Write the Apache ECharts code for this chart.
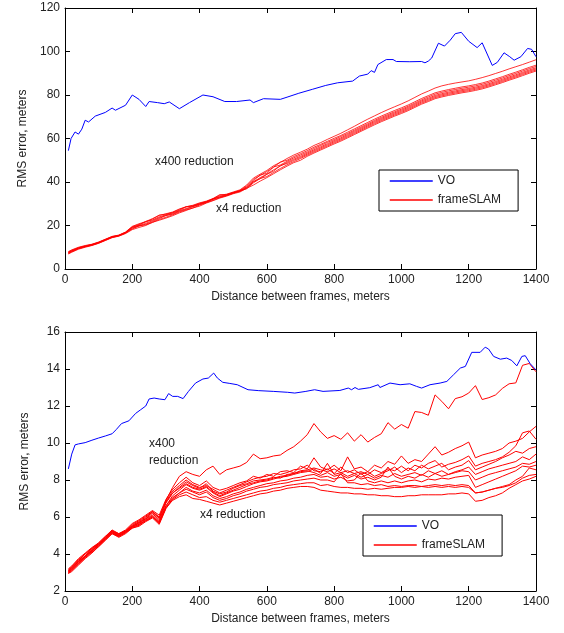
<!DOCTYPE html>
<html>
<head>
<meta charset="utf-8">
<script src="https://cdn.jsdelivr.net/npm/echarts@6/dist/echarts.min.js"></script>
<style>
  html, body { margin: 0; padding: 0; background: #fff; }
  #chart { width: 564px; height: 633px; }
</style>
</head>
<body>
<div id="chart"></div>
<script>
// Shared distance grid (meters) for the frameSLAM runs
const DIST = [10,20,40,60,80,100,120,140,160,180,200,220,240,260,280,300,320,340,360,380,
  400,420,440,460,480,500,520,540,560,580,600,620,640,660,680,700,720,740,760,780,
  800,820,840,860,880,900,920,940,960,980,1000,1020,1040,1060,1080,1100,1120,1140,1160,1180,
  1200,1220,1240,1260,1280,1300,1320,1340,1360,1380,1400];

// ---- Upper panel: x400 reduction ----
const VO_TOP_X = [10,18,30,40,50,60,70,90,120,140,150,180,200,220,240,250,275,295,310,340,
  370,410,440,475,510,550,560,590,640,660,695,735,775,810,855,875,900,910,920,930,
  955,975,985,1025,1060,1070,1080,1090,1110,1128,1145,1160,1178,1200,1225,1240,1270,1285,1305,1322,
  1335,1355,1375,1387,1400];
const VO_TOP_Y = [54.4,60,63,62,64.3,68.4,67.6,70.3,72,74,73,75.3,80,78,74.7,77,76.5,76,76.8,73.7,
  76.5,80,79.2,77,77,77.7,76.5,78.3,78,79,80.8,82.6,84.4,85.6,86.4,88.7,89.6,91.2,90.4,94,
  96.3,96.3,95.4,95.3,95.4,94.8,95.6,97,103.8,102.5,105.2,108.2,108.8,104.7,101.8,104,93.6,95,99.4,97.6,
  96,97.6,101.4,101,97.6];

const SLAM_TOP_1 = [8.0,8.8,10.0,10.8,11.4,12.4,13.7,15.0,15.6,17.0,19.6,20.8,21.8,23.2,24.6,25.4,26.2,27.6,28.6,29.3,
  30.4,31.2,32.4,33.9,34.4,35.4,36.4,38.6,41.8,43.6,45.3,47.5,49.0,50.8,52.4,53.7,55.1,56.8,58.1,59.6,
  61.0,62.4,64.0,65.6,67.3,68.9,70.4,71.9,73.3,74.6,75.9,77.3,78.9,80.5,81.8,83.2,84.2,84.9,85.5,86.0,
  86.5,87.2,88.0,88.9,89.9,90.9,92.0,93.0,94.0,95.1,96.2];
const SLAM_TOP_2 = [7.8,8.6,9.8,10.6,11.3,12.3,13.6,14.9,15.5,16.9,19.4,20.5,21.6,22.9,24.8,25.2,26.0,27.4,28.6,29.1,
  30.2,31.0,32.3,34.2,34.2,35.2,36.1,38.2,41.2,43.0,44.8,46.8,49.2,50.0,51.7,53.0,54.4,56.0,57.3,58.7,
  60.1,61.4,62.9,64.4,65.9,67.4,68.9,70.3,71.6,72.9,74.1,75.4,76.9,78.4,79.7,81.0,81.8,82.5,83.1,83.7,
  84.2,84.8,85.5,86.4,87.4,88.4,89.5,90.5,91.6,92.7,93.7];
const SLAM_TOP_3 = [7.6,8.4,9.7,10.5,11.2,12.2,13.5,14.8,15.4,16.8,19.2,20.2,21.9,22.5,24.0,24.9,25.8,27.0,28.6,28.9,
  30.0,30.9,32.1,33.5,34.1,35.1,35.9,37.8,40.6,43.2,44.0,46.9,47.8,49.5,51.1,52.4,53.8,55.4,56.8,58.2,
  59.5,60.9,62.3,63.8,65.3,66.8,68.3,69.7,71.0,72.3,73.5,74.8,76.3,77.8,79.1,80.4,81.2,81.9,82.5,83.1,
  83.6,84.2,84.9,85.8,86.8,87.8,88.9,89.9,91.0,92.1,93.1];
const SLAM_TOP_4 = [7.5,8.3,9.6,10.4,11.1,12.1,13.4,14.7,15.4,16.7,19.0,20.0,21.0,22.2,23.6,24.6,25.5,26.8,27.8,28.8,
  29.8,30.8,32.0,33.2,34.0,35.0,35.8,37.5,40.0,42.0,43.6,45.6,47.3,49.0,50.5,51.8,53.3,54.8,56.2,57.6,
  59.0,60.3,61.8,63.3,64.8,66.3,67.8,69.2,70.5,71.8,73.0,74.3,75.8,77.3,78.5,79.8,80.6,81.3,81.9,82.5,
  83.0,83.6,84.3,85.2,86.2,87.2,88.3,89.3,90.4,91.5,92.5];
const SLAM_TOP_5 = [7.3,8.1,9.4,10.3,11.0,12.0,13.3,14.6,15.3,16.6,18.7,19.7,20.6,21.8,23.2,24.6,25.2,26.5,27.5,28.6,
  29.6,30.6,32.3,33.0,33.8,34.9,35.7,37.2,40.2,41.5,43.5,45.0,47.6,48.5,50.0,51.3,52.8,54.3,55.7,57.1,
  58.5,59.8,61.3,62.8,64.3,65.8,67.3,68.7,70.0,71.3,72.5,73.8,75.3,76.8,78.0,79.3,80.1,80.8,81.4,82.0,
  82.5,83.1,83.8,84.7,85.7,86.7,87.8,88.8,89.9,91.0,92.0];
const SLAM_TOP_6 = [7.1,7.9,9.3,10.2,10.9,11.9,13.2,14.5,15.2,16.5,18.4,19.9,20.3,21.4,22.8,23.8,24.9,26.2,27.2,28.0,
  29.4,30.5,31.6,32.8,33.7,34.8,36.0,36.9,39.6,41.6,42.5,44.4,46.2,47.9,49.4,50.8,52.3,53.8,55.2,56.6,
  58.0,59.3,60.8,62.3,63.8,65.3,66.8,68.2,69.5,70.8,72.0,73.3,74.8,76.3,77.5,78.8,79.6,80.3,80.9,81.5,
  82.0,82.6,83.3,84.2,85.2,86.2,87.3,88.3,89.4,90.5,91.5];
const SLAM_TOP_7 = [6.9,7.7,9.1,10.0,10.8,11.8,13.1,14.4,15.1,16.3,18.1,19.1,20.0,21.5,22.4,23.4,24.5,25.8,26.9,28.1,
  28.9,30.3,31.4,32.6,33.5,34.6,35.4,37.1,38.6,40.4,42.0,43.8,45.6,47.3,48.9,50.0,51.8,53.3,54.7,56.1,
  57.5,58.8,60.3,61.8,63.3,64.8,66.3,67.7,69.0,70.3,71.5,72.8,74.3,75.8,77.0,78.3,79.1,79.8,80.4,81.0,
  81.5,82.1,82.8,83.7,84.7,85.7,86.8,87.8,88.9,90.0,91.0];

// ---- Lower panel: x4 reduction ----
const VO_BOT_X = [10,20,30,40,60,80,100,120,140,152,168,190,210,225,240,250,265,280,297,308,
  320,335,351,367,388,410,426,442,453,469,490,512,544,576,619,662,683,716,742,767,
  817,842,852,862,872,906,931,936,966,996,1025,1045,1060,1085,1115,1135,1155,1175,1190,1209,
  1234,1249,1259,1274,1294,1313,1328,1343,1358,1368,1383,1400];
const VO_BOT_Y = [8.6,9.4,9.9,9.95,10.02,10.15,10.27,10.38,10.5,10.72,11.05,11.2,11.6,11.8,12.0,12.38,12.43,12.38,12.34,12.67,
  12.52,12.52,12.4,12.79,13.24,13.46,13.51,13.78,13.51,13.28,13.22,13.15,12.88,12.83,12.79,12.74,12.7,12.79,12.88,12.79,
  12.84,12.97,12.88,13.0,12.9,12.99,13.15,13.0,13.24,13.15,13.2,13.06,12.97,13.15,13.24,13.33,13.69,14.05,14.14,14.9,
  14.9,15.18,15.08,14.68,14.53,14.59,14.46,14.17,14.68,14.72,14.28,13.95];

const SLAM_BOT_0 = [3.1,3.25,3.6,3.9,4.25,4.55,4.85,5.25,5.05,5.25,5.5,5.7,5.95,6.3,5.9,6.9,7.6,8.2,8.45,8.3,
  8.2,8.55,8.75,8.3,8.55,8.65,8.75,8.95,9.4,9.15,9.2,9.3,9.35,9.6,9.8,10.1,10.45,11.05,10.6,10.25,
  10.4,10.2,10.55,10.1,10.45,10.05,10.3,10.5,11.1,10.75,11.0,10.8,11.7,11.65,11.5,12.6,12.25,11.85,12.4,12.5,
  12.7,13.1,12.35,12.45,12.6,12.95,13.2,13.25,14.2,14.3,13.85];
const SLAM_BOT_1 = [3.2,3.35,3.75,4.05,4.35,4.6,4.95,5.3,5.1,5.3,5.65,5.85,6.1,6.35,6.1,6.95,7.5,7.85,8.15,7.85,
  7.7,7.95,7.6,7.45,7.55,7.7,7.85,7.95,8.2,8.1,8.3,8.2,8.45,8.5,8.4,8.75,8.6,9.2,8.7,8.55,
  8.8,8.5,9.25,8.6,8.7,8.45,8.8,8.65,9.0,8.85,9.3,8.9,9.1,9.0,9.4,9.8,9.35,9.5,9.7,9.85,
  10.05,9.2,9.35,9.45,9.55,9.7,10.0,10.1,10.25,10.6,10.9];
const SLAM_BOT_2 = [3.05,3.2,3.55,3.9,4.2,4.5,4.85,5.2,5.0,5.2,5.5,5.65,5.9,6.2,5.8,6.75,7.3,7.6,7.9,7.7,
  7.55,7.8,7.4,7.25,7.35,7.55,7.7,7.8,7.95,8.0,8.05,8.15,8.1,8.3,8.35,8.5,8.55,8.65,8.55,8.45,
  8.6,8.4,8.5,8.35,8.45,8.3,8.55,8.4,8.6,8.5,8.75,8.5,8.8,8.65,8.9,9.05,8.7,8.85,8.95,9.1,
  9.3,8.75,8.9,9.0,9.1,9.25,9.5,9.85,10.55,10.65,10.2];
const SLAM_BOT_3 = [3.15,3.3,3.65,4.0,4.3,4.55,4.9,5.25,5.05,5.25,5.6,5.8,6.05,6.3,6.0,6.85,7.4,7.7,8.0,7.75,
  7.6,7.7,7.5,7.3,7.45,7.6,7.75,7.9,8.05,8.15,8.2,8.35,8.3,8.4,8.55,8.6,8.8,8.5,8.45,8.6,
  8.35,8.7,8.4,8.55,8.3,8.45,8.2,8.35,8.5,8.7,8.4,8.65,8.5,8.8,8.6,8.75,8.9,8.55,8.7,8.8,
  9.05,8.55,8.7,8.85,9.0,9.2,9.35,9.55,9.45,9.7,9.8];
const SLAM_BOT_4 = [3.0,3.15,3.5,3.85,4.15,4.45,4.8,5.15,4.95,5.15,5.45,5.6,5.85,6.05,5.7,6.6,7.15,7.45,7.75,7.55,
  7.45,7.6,7.3,7.1,7.25,7.4,7.5,7.65,7.8,7.9,7.95,8.05,8.15,8.2,8.3,8.4,8.45,8.6,8.35,8.9,
  8.3,8.4,8.2,8.35,8.15,8.3,8.1,8.25,8.15,8.35,8.2,8.3,8.4,8.25,8.5,8.35,8.5,8.3,8.45,8.55,
  8.7,8.3,8.45,8.6,8.7,8.8,8.9,9.0,9.25,9.1,9.4];
const SLAM_BOT_5 = [3.1,3.3,3.7,4.0,4.3,4.6,4.95,5.25,5.1,5.25,5.55,5.75,6.0,6.25,5.95,6.8,7.3,7.55,7.8,7.6,
  7.5,7.65,7.35,7.15,7.3,7.45,7.6,7.75,7.85,7.95,8.0,8.1,8.2,8.25,8.35,8.45,8.5,8.4,8.25,8.4,
  8.2,8.3,8.1,8.25,8.05,8.15,8.0,8.15,8.7,8.2,8.05,8.2,8.1,8.3,8.15,8.35,8.2,8.3,8.4,8.5,
  8.45,8.0,8.15,8.3,8.4,8.5,8.6,8.7,8.9,8.85,9.0];
const SLAM_BOT_6 = [2.95,3.1,3.45,3.8,4.1,4.4,4.75,5.1,4.95,5.15,5.4,5.55,5.8,6.0,5.65,6.5,7.0,7.3,7.6,7.4,
  7.3,7.45,7.15,7.0,7.1,7.25,7.35,7.5,7.6,7.7,7.8,7.85,7.95,8.0,8.1,8.15,8.25,8.3,8.15,8.2,
  8.05,8.15,7.95,8.0,8.4,7.95,7.85,7.95,7.85,7.95,7.85,7.95,8.0,7.9,8.05,8.0,8.1,8.05,8.15,8.2,
  8.25,7.6,7.75,7.9,8.05,8.2,8.35,8.5,8.75,8.7,8.8];
const SLAM_BOT_7 = [3.05,3.2,3.6,3.9,4.2,4.5,4.85,5.2,5.0,5.2,5.5,5.7,5.9,6.1,5.75,6.6,7.05,7.3,7.5,7.35,
  7.2,7.35,7.05,6.9,7.0,7.15,7.25,7.4,7.5,7.6,7.65,7.75,7.8,7.85,7.95,8.0,8.05,8.1,8.0,8.0,
  7.9,8.35,7.85,7.85,7.75,7.8,7.7,7.75,7.65,7.7,7.65,7.7,7.7,7.65,7.7,7.75,7.7,7.75,7.7,7.75,
  7.7,7.3,7.35,7.45,7.55,7.65,7.75,8.0,8.2,8.65,8.55];
const SLAM_BOT_8 = [2.95,3.05,3.4,3.75,4.05,4.4,4.75,5.1,4.9,5.1,5.4,5.5,5.75,5.95,5.6,6.45,6.95,7.2,7.35,7.2,
  7.05,7.1,6.9,6.8,6.9,7.0,7.1,7.2,7.3,7.4,7.45,7.55,7.6,7.7,7.75,7.8,7.85,7.85,7.7,7.75,
  7.65,7.6,7.6,7.55,7.55,7.5,7.55,7.5,7.55,7.6,7.6,7.65,7.6,7.65,7.6,7.65,7.6,7.65,7.6,7.65,
  7.6,7.3,7.35,7.45,7.55,7.6,7.7,7.85,8.1,8.25,8.3];
const SLAM_BOT_9 = [3.0,3.15,3.5,3.85,4.15,4.5,4.8,5.15,5.0,5.2,5.45,5.6,5.8,6.0,5.7,6.5,6.9,7.1,7.2,7.0,
  6.95,6.85,6.75,6.65,6.75,6.85,6.95,7.05,7.15,7.25,7.3,7.4,7.45,7.55,7.6,7.65,7.65,7.6,7.45,7.4,
  7.35,7.3,7.3,7.25,7.25,7.2,7.2,7.15,7.15,7.1,7.1,7.15,7.15,7.2,7.2,7.2,7.2,7.25,7.25,7.3,
  7.25,6.85,6.9,7.05,7.15,7.3,7.55,7.75,7.95,8.05,8.2];

const SLAM_TOP = [SLAM_TOP_1, SLAM_TOP_2, SLAM_TOP_3, SLAM_TOP_4, SLAM_TOP_5, SLAM_TOP_6, SLAM_TOP_7];
const SLAM_BOT = [SLAM_BOT_0, SLAM_BOT_1, SLAM_BOT_2, SLAM_BOT_3, SLAM_BOT_4, SLAM_BOT_5,
  SLAM_BOT_6, SLAM_BOT_7, SLAM_BOT_8, SLAM_BOT_9];

const X_TICKS = { min: 0, max: 1400, interval: 200 };
const Y_TOP = { min: 0, max: 120, interval: 20 };
const Y_BOT = { min: 2, max: 16, interval: 2 };

const FONT = "'Liberation Sans', Arial, Helvetica, sans-serif";
const INK = '#222';
const BLUE = '#0000ff';
const RED = '#ff0000';

function zip(xs, ys) { return xs.map((x, i) => [x, ys[i]]); }
const plain = v => String(v);

function lineSeries(name, color, data, axisIdx, width) {
  return {
    type: 'line', name, data, symbol: 'none', showSymbol: false,
    xAxisIndex: axisIdx, yAxisIndex: axisIdx,
    lineStyle: { color, width }, itemStyle: { color },
    animation: false, silent: true
  };
}

const TICK = { show: true, inside: true, length: 5, lineStyle: { color: '#000', width: 1 } };
const LINE = { show: true, onZero: false, lineStyle: { color: '#000', width: 1 } };

function mainX(grid) {
  return Object.assign({
    type: 'value', gridIndex: grid, position: 'bottom',
    name: 'Distance between frames, meters', nameLocation: 'middle', nameGap: 22,
    nameTextStyle: { fontSize: 12, color: INK, fontFamily: FONT },
    axisLine: LINE, axisTick: TICK,
    axisLabel: { fontSize: 12, color: INK, fontFamily: FONT, margin: 5, formatter: plain },
    splitLine: { show: false }
  }, X_TICKS);
}
function mirrorX(grid) {
  return Object.assign({
    type: 'value', gridIndex: grid, position: 'top',
    axisLine: LINE, axisTick: TICK,
    axisLabel: { show: false }, splitLine: { show: false }
  }, X_TICKS);
}
function mainY(grid, range) {
  return Object.assign({
    type: 'value', gridIndex: grid, position: 'left',
    name: 'RMS error, meters', nameLocation: 'middle', nameGap: 34, nameRotate: 90,
    nameTextStyle: { fontSize: 12, color: INK, fontFamily: FONT },
    axisLine: LINE, axisTick: TICK,
    axisLabel: { fontSize: 12, color: INK, fontFamily: FONT, margin: 5, formatter: plain },
    splitLine: { show: false }
  }, range);
}
function mirrorY(grid, range) {
  return Object.assign({
    type: 'value', gridIndex: grid, position: 'right',
    axisLine: LINE, axisTick: TICK,
    axisLabel: { show: false }, splitLine: { show: false }
  }, range);
}
function legendBox(left, top) {
  return {
    data: ['VO', 'frameSLAM'], orient: 'vertical', left, top,
    padding: [5, 17, 5, 10], itemGap: 7, itemWidth: 43, itemHeight: 14,
    backgroundColor: '#fff', borderColor: '#000', borderWidth: 1, borderRadius: 0,
    selectedMode: false,
    itemStyle: { opacity: 0 },
    lineStyle: { width: 1.5 },
    textStyle: { fontSize: 12, color: INK, fontFamily: FONT }
  };
}
function note(text, x, y) {
  return {
    type: 'text', x, y, silent: true, z: 100,
    style: { text, fill: INK, font: '12px ' + FONT, verticalAlign: 'middle' }
  };
}

const series = [];
// axis pair 0/1 belong to the upper grid, 2/3 to the lower grid
SLAM_TOP.forEach(v => series.push(lineSeries('frameSLAM', RED, zip(DIST, v), 0, 0.8)));
series.push(lineSeries('VO', BLUE, zip(VO_TOP_X, VO_TOP_Y), 0, 1));
SLAM_BOT.forEach(v => series.push(lineSeries('frameSLAM', RED, zip(DIST, v), 2, 1)));
series.push(lineSeries('VO', BLUE, zip(VO_BOT_X, VO_BOT_Y), 2, 1));

const chart = echarts.init(document.getElementById('chart'), null, { renderer: 'canvas' });
chart.setOption({
  backgroundColor: '#fff',
  animation: false,
  textStyle: { fontFamily: FONT },
  grid: [
    { left: 65, top: 8, width: 471, height: 261 },
    { left: 65, top: 332, width: 471, height: 259 }
  ],
  xAxis: [mainX(0), mirrorX(0), mainX(1), mirrorX(1)],
  yAxis: [mainY(0, Y_TOP), mirrorY(0, Y_TOP), mainY(1, Y_BOT), mirrorY(1, Y_BOT)],
  legend: [legendBox(379, 170), legendBox(363, 515)],
  series,
  graphic: [
    note('x400 reduction', 155, 162),
    note('x4 reduction', 216, 209),
    note('x400', 149, 444),
    note('reduction', 149, 461),
    note('x4 reduction', 200, 515)
  ]
});
</script>
</body>
</html>
